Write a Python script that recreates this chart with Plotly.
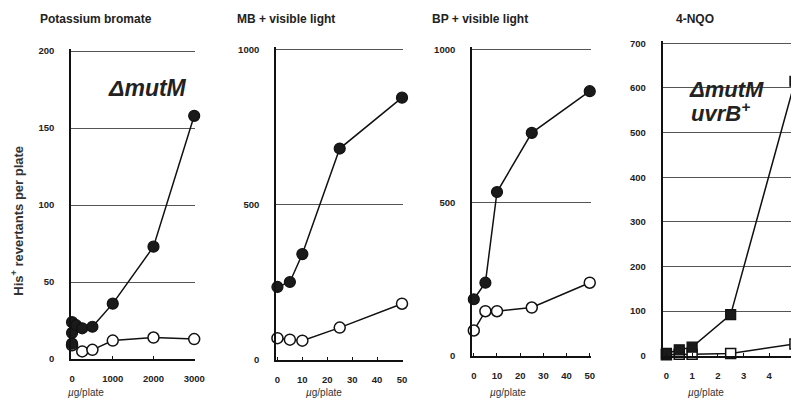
import plotly.graph_objects as go

# ---------------- data ----------------
kbro3_dose_filled = [0, 0, 0, 100, 250, 500, 1000, 2000, 3000]
kbro3_rev_filled = [10, 17, 24, 22, 20, 21, 36, 73, 158]
kbro3_dose_open = [0, 250, 500, 1000, 2000, 3000]
kbro3_rev_open = [9, 5, 6, 12, 14, 13]

mb_dose = [0, 5, 10, 25, 50]
mb_rev_filled = [234, 250, 340, 680, 844]
mb_rev_open = [69, 64, 61, 103, 180]

bp_dose = [0, 5, 10, 25, 50]
bp_rev_filled = [184, 238, 534, 727, 863]
bp_rev_open = [82, 145, 145, 157, 238]

nqo_dose = [0, 0.5, 1, 2.5, 5]
nqo_rev_filled = [5, 13, 19, 92, 615]
nqo_rev_open = [2, 3, 3, 5, 26]

titles = ["Potassium bromate", "MB + visible light", "BP + visible light", "4-NQO"]
x_ticks = [[0, 1000, 2000, 3000], [0, 10, 20, 30, 40, 50], [0, 10, 20, 30, 40, 50], [0, 1, 2, 3, 4, 5]]
y_ticks = [[0, 50, 100, 150, 200], [0, 500, 1000], [0, 500, 1000], [0, 100, 200, 300, 400, 500, 600, 700]]
x_ranges = [[-24, 3024], [-0.6, 50.4], [-0.8, 50.6], [-0.15, 5.08]]
y_ranges = [[0, 201.5], [0, 1007], [0, 1007], [0, 705]]

W, H = 799, 410
# plot-area pixel boxes (left, right, top, bottom)
boxes = [(62, 188, 38.6, 355), (270, 399, 36.8, 355.5), (469, 590, 36.8, 351.5), (662.5, 799, 30.7, 351.5)]

FONT = "Liberation Sans, Arial, sans-serif"


def px(x):
    return x / W


def py(y):
    return 1 - y / H


fig = go.Figure()

series = [
    (kbro3_dose_filled, kbro3_rev_filled, kbro3_dose_open, kbro3_rev_open, "circle"),
    (mb_dose, mb_rev_filled, mb_dose, mb_rev_open, "circle"),
    (bp_dose, bp_rev_filled, bp_dose, bp_rev_open, "circle"),
    (nqo_dose, nqo_rev_filled, nqo_dose, nqo_rev_open, "square"),
]

for i, (xf, yf, xo, yo, sym) in enumerate(series):
    ax = "" if i == 0 else str(i + 1)
    size = 11 if sym == "circle" else 10
    fig.add_trace(go.Scatter(x=xo, y=yo, mode="lines+markers", xaxis="x" + ax, yaxis="y" + ax,
                             line=dict(color="#111", width=1.5),
                             marker=dict(symbol=sym, size=size, color="white",
                                         line=dict(color="#111", width=1.5)),
                             cliponaxis=False, showlegend=False))
    fig.add_trace(go.Scatter(x=xf, y=yf, mode="lines+markers", xaxis="x" + ax, yaxis="y" + ax,
                             line=dict(color="#111", width=1.5),
                             marker=dict(symbol=sym, size=size, color="#1a1a1a",
                                         line=dict(color="#111", width=1.2)),
                             cliponaxis=False, showlegend=False))

layout = dict(
    width=W, height=H, margin=dict(l=0, r=0, t=0, b=0),
    paper_bgcolor="white", plot_bgcolor="white",
    font=dict(family=FONT, color="#222"),
    showlegend=False,
)
for i, (l, r, t, b) in enumerate(boxes):
    ax = "" if i == 0 else str(i + 1)
    layout["xaxis" + ax] = dict(
        domain=[px(l), min(px(r), 1.0)], range=x_ranges[i], anchor="y" + ax,
        tickvals=x_ticks[i], ticks="inside", ticklen=3, tickcolor="#111", tickwidth=1,
        showline=True, linecolor="#111", linewidth=1.6, showgrid=False, zeroline=False,
        tickfont=dict(size=9.5, family=FONT, weight="bold", color="#222"),
        ticklabelstandoff=10, ticklabeloverflow="allow",
    )
    layout["yaxis" + ax] = dict(
        domain=[py(b), py(t)], range=y_ranges[i], anchor="x" + ax,
        tickvals=y_ticks[i], ticks="", showline=True, linecolor="#111", linewidth=1.6,
        showgrid=True, gridcolor="#555", gridwidth=1, zeroline=False,
        tickfont=dict(size=9.5, family=FONT, weight="bold", color="#222"),
        ticklabelstandoff=13,
    )
fig.update_layout(**layout)

anns = []
title_x = [87.5, 280, 477, 695]
for i, t in enumerate(titles):
    anns.append(dict(text=t, x=px(title_x[i]), y=py(8), xref="paper", yref="paper",
                     showarrow=False, xanchor="center", yanchor="middle",
                     font=dict(size=12, family=FONT, weight="bold", color="#222")))
xlab_x = [77.5, 319, 506, 707]
for i in range(4):
    anns.append(dict(text="<i>µ</i>g/plate", x=px(xlab_x[i]), y=py(389.5), xref="paper", yref="paper",
                     showarrow=False, xanchor="center", yanchor="middle",
                     font=dict(size=10, family=FONT, color="#333")))
anns.append(dict(text="His<sup>+</sup> revertants per plate", x=px(7), y=py(214),
                 xref="paper", yref="paper", showarrow=False, textangle=-90,
                 xanchor="center", yanchor="middle",
                 font=dict(size=13, family=FONT, weight="bold", color="#333")))
anns.append(dict(text="<b><i>ΔmutM</i></b>", x=px(97), y=py(79), xref="paper", yref="paper",
                 showarrow=False, xanchor="left", yanchor="middle",
                 font=dict(size=23, family=FONT, color="#222")))
anns.append(dict(text="<b><i>ΔmutM</i></b>", x=px(687), y=py(80), xref="paper", yref="paper",
                 showarrow=False, xanchor="left", yanchor="middle",
                 font=dict(size=22, family=FONT, color="#222")))
anns.append(dict(text="<b><i>uvrB<sup>+</sup></i></b>", x=px(689), y=py(103), xref="paper", yref="paper",
                 showarrow=False, xanchor="left", yanchor="middle",
                 font=dict(size=22, family=FONT, color="#222")))
fig.update_layout(annotations=anns)

fig.write_html("out.html")
